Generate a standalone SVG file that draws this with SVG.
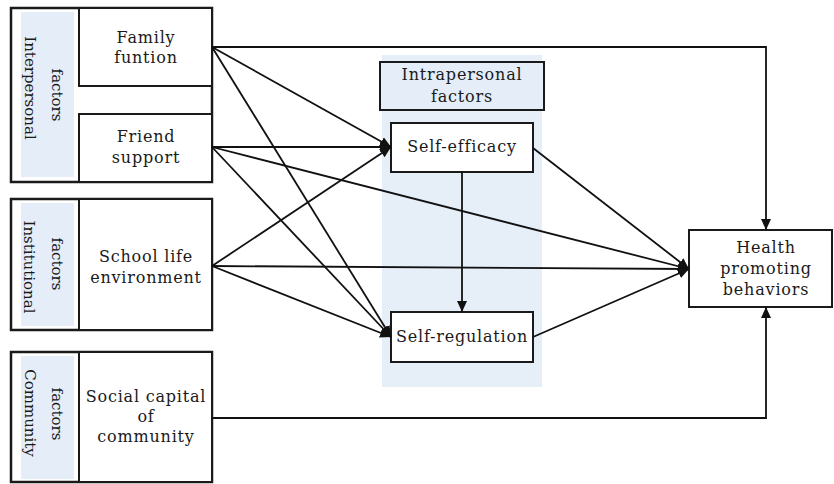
<svg xmlns="http://www.w3.org/2000/svg" width="834" height="484" viewBox="0 0 834 484">
<style>
text{font-family:"DejaVu Serif","Liberation Serif",serif;font-size:16px;fill:#1a1a1a;text-anchor:middle;letter-spacing:0.8px}
.v{font-size:15px;letter-spacing:0}
.box{fill:#fff;stroke:#1a1a1a;stroke-width:2}
.grp{fill:#fff;stroke:#1a1a1a;stroke-width:2.5}
.strip{fill:#e4edf8}
.bg{fill:#e6eef8}
.hdr{fill:#e4edf8;stroke:#1a1a1a;stroke-width:2}
.c{fill:none;stroke:#111;stroke-width:1.8;marker-end:url(#ah)}
</style>
<defs>
<marker id="ah" markerUnits="userSpaceOnUse" markerWidth="12" markerHeight="10" refX="11" refY="5" orient="auto">
<path d="M0,0 L11,5 L0,10 Z" fill="#111"/>
</marker>
</defs>
<rect width="834" height="484" fill="#fff"/>

<g id="intrapersonal-bg">
<rect class="bg" x="382" y="55" width="160" height="332"/>
</g>

<g id="group-interpersonal">
<rect class="grp" x="11" y="8" width="201" height="174"/>
<rect class="strip" x="21" y="12" width="53" height="165"/>
<text class="v" transform="translate(25,88) rotate(90)" x="0" y="0">Interpersonal</text>
<text class="v" transform="translate(52,95) rotate(90)" x="0" y="0">factors</text>
</g>
<g id="family">
<rect class="box" x="79" y="8" width="133" height="78"/>
<text x="146" y="43">Family</text>
<text x="146" y="63">funtion</text>
</g>
<g id="friend">
<rect class="box" x="79" y="114" width="133" height="68"/>
<text x="146" y="142">Friend</text>
<text x="146" y="163">support</text>
</g>

<g id="group-institutional">
<rect class="grp" x="11" y="199" width="201" height="131"/>
<rect class="strip" x="21" y="203" width="53" height="123"/>
<text class="v" transform="translate(24,267) rotate(90)" x="0" y="0">Institutional</text>
<text class="v" transform="translate(52,264) rotate(90)" x="0" y="0">factors</text>
</g>
<g id="school">
<rect class="box" x="79" y="199" width="133" height="131"/>
<text x="146" y="262">School life</text>
<text x="146" y="283">environment</text>
</g>

<g id="group-community">
<rect class="grp" x="11" y="352" width="201" height="130"/>
<rect class="strip" x="21" y="356" width="53" height="123"/>
<text class="v" transform="translate(25,413) rotate(90)" x="0" y="0">Community</text>
<text class="v" transform="translate(52,414) rotate(90)" x="0" y="0">factors</text>
</g>
<g id="social">
<rect class="box" x="79" y="352" width="133" height="130"/>
<text x="146" y="402">Social capital</text>
<text x="146" y="422">of</text>
<text x="146" y="442">community</text>
</g>

<g id="intrapersonal-header">
<rect class="hdr" x="380" y="62" width="164" height="48"/>
<text x="462" y="80">Intrapersonal</text>
<text x="462" y="102">factors</text>
</g>
<g id="self-efficacy">
<rect class="box" x="391" y="123" width="142" height="49"/>
<text x="462" y="152">Self-efficacy</text>
</g>
<g id="self-regulation">
<rect class="box" x="391" y="312" width="142" height="50"/>
<text x="462" y="342">Self-regulation</text>
</g>
<g id="health">
<rect class="box" x="689" y="230" width="143" height="77"/>
<text x="766" y="253">Health</text>
<text x="766" y="274">promoting</text>
<text x="766" y="295">behaviors</text>
</g>

<g id="connectors">
<polyline class="c" points="212,47 766,47 766,230"/>
<line class="c" x1="212" y1="47" x2="391" y2="147"/>
<line class="c" x1="212" y1="47" x2="391" y2="337"/>
<line class="c" x1="212" y1="147" x2="391" y2="147"/>
<line class="c" x1="212" y1="147" x2="689" y2="269"/>
<line class="c" x1="212" y1="147" x2="391" y2="337"/>
<line class="c" x1="212" y1="266" x2="391" y2="147"/>
<line class="c" x1="212" y1="266" x2="689" y2="269"/>
<line class="c" x1="212" y1="266" x2="391" y2="337"/>
<line class="c" x1="462" y1="172" x2="462" y2="312"/>
<line class="c" x1="533" y1="148" x2="689" y2="269"/>
<line class="c" x1="533" y1="337" x2="689" y2="269"/>
<polyline class="c" points="212,418 766,418 766,307"/>
</g>
</svg>
